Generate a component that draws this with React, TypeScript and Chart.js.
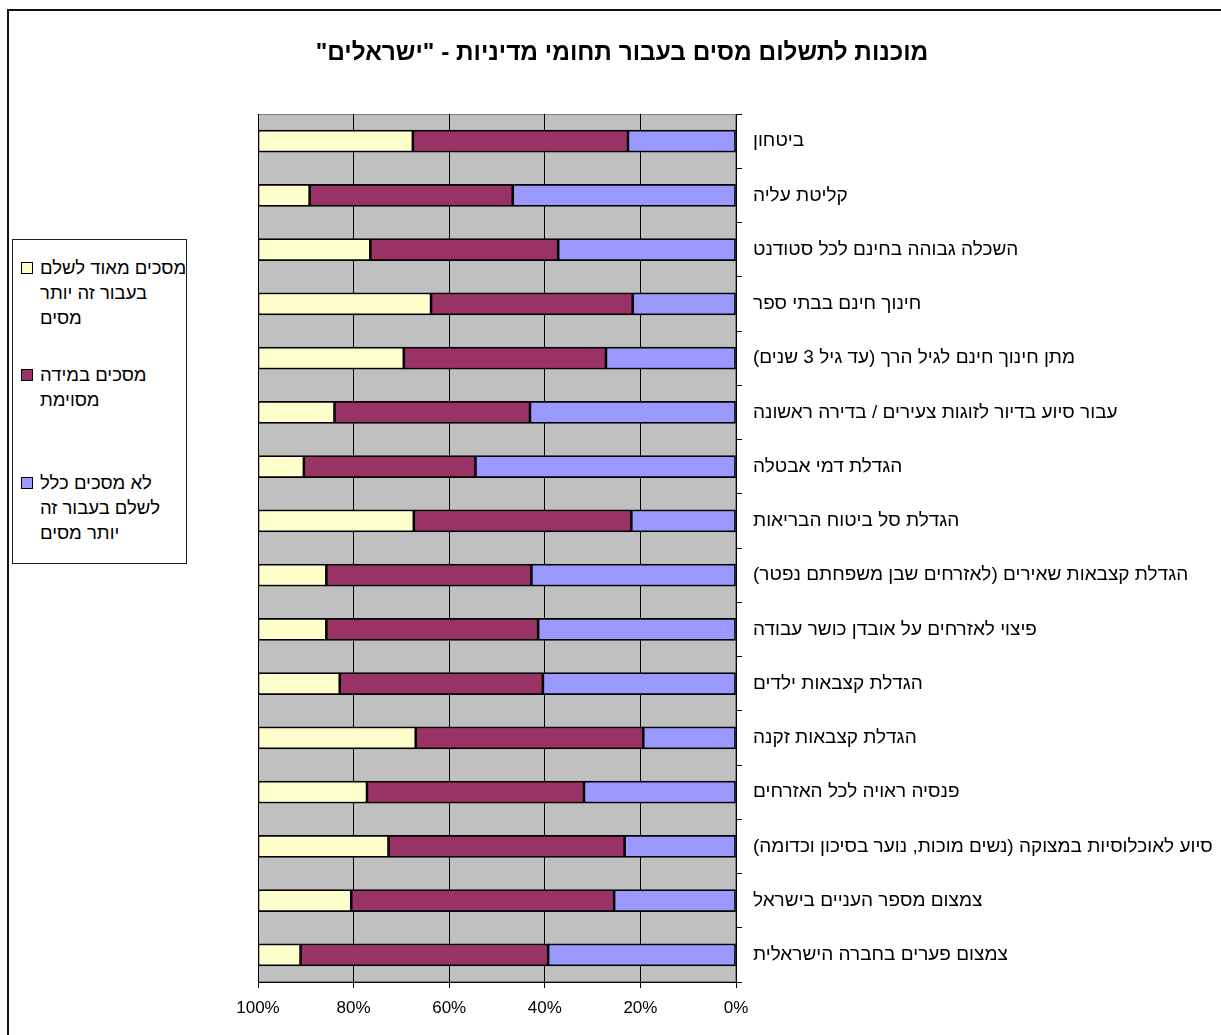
import React, { useEffect, useRef } from "react";
import { Chart, registerables } from "chart.js";

Chart.register(...registerables);

const chartTitle = 'מוכנות לתשלום מסים בעבור תחומי מדיניות - "ישראלים"';

const categories = [
  "ביטחון",
  "קליטת עליה",
  "השכלה גבוהה בחינם לכל סטודנט",
  "חינוך חינם בבתי ספר",
  "מתן חינוך חינם לגיל הרך (עד גיל 3 שנים)",
  "עבור סיוע בדיור לזוגות צעירים / בדירה ראשונה",
  "הגדלת דמי אבטלה",
  "הגדלת סל ביטוח הבריאות",
  "הגדלת קצבאות שאירים (לאזרחים שבן משפחתם נפטר)",
  "פיצוי לאזרחים על אובדן כושר עבודה",
  "הגדלת קצבאות ילדים",
  "הגדלת קצבאות זקנה",
  "פנסיה ראויה לכל האזרחים",
  "סיוע לאוכלוסיות במצוקה (נשים מוכות, נוער בסיכון וכדומה)",
  "צמצום מספר העניים בישראל",
  "צמצום פערים בחברה הישראלית",
];

// "מסכים מאוד לשלם בעבור זה יותר מסים"
const agreeStrongly = [32.4, 10.8, 23.5, 36.2, 30.5, 16.0, 9.6, 32.6, 14.3, 14.3, 17.1, 33.0, 22.8, 27.3, 19.5, 8.9];
// "מסכים במידה מסוימת"
const agreeSomewhat = [45.0, 42.5, 39.3, 42.2, 42.3, 40.9, 35.9, 45.5, 42.9, 44.3, 42.5, 47.6, 45.4, 49.4, 55.0, 51.8];
// "לא מסכים כלל לשלם בעבור זה יותר מסים"
const disagree = [22.6, 46.7, 37.2, 21.6, 27.2, 43.1, 54.5, 21.9, 42.8, 41.4, 40.4, 19.4, 31.8, 23.3, 25.5, 39.3];

const seriesNames = [
  "מסכים מאוד לשלם בעבור זה יותר מסים",
  "מסכים במידה מסוימת",
  "לא מסכים כלל לשלם בעבור זה יותר מסים",
];
const legendLines = [
  ["מסכים מאוד לשלם", "בעבור זה יותר", "מסים"],
  ["מסכים במידה", "מסוימת"],
  ["לא מסכים כלל", "לשלם בעבור זה", "יותר מסים"],
];
const seriesColors = ["#FFFFCC", "#993366", "#9999FF"];

const xTickMin = 0;
const xTickMax = 100;
const xTickStep = 20;

const FONT = "'Liberation Sans', Arial, sans-serif";

const plotBackground = {
  id: "plotBackground",
  beforeDraw(chart: any) {
    const { ctx, chartArea: a } = chart;
    ctx.save();
    ctx.fillStyle = "#C0C0C0";
    ctx.fillRect(a.left, a.top, a.right - a.left, a.bottom - a.top);
    ctx.strokeStyle = "#808080";
    ctx.lineWidth = 1;
    ctx.strokeRect(a.left + 0.5, a.top + 0.5, a.right - a.left - 1, a.bottom - a.top - 1);
    ctx.restore();
  },
};

const titlePlugin = {
  id: "fixedTitle",
  afterDraw(chart: any) {
    const { ctx } = chart;
    ctx.save();
    ctx.direction = "rtl";
    ctx.font = `bold 24.4px ${FONT}`;
    ctx.fillStyle = "#000";
    ctx.textAlign = "center";
    ctx.textBaseline = "middle";
    ctx.fillText(chartTitle, 622, 53);
    ctx.restore();
  },
};

function ChartCanvas() {
  const ref = useRef<HTMLCanvasElement | null>(null);
  useEffect(() => {
    if (!ref.current) return;
    const mk = (label: string, data: number[], color: string) => ({
      label,
      data,
      backgroundColor: color,
      borderColor: "#000000",
      borderWidth: 1.6,
      borderSkipped: false as const,
      barThickness: 22,
    });
    const chart = new Chart(ref.current, {
      type: "bar",
      data: {
        labels: categories,
        datasets: [
          mk(seriesNames[2], disagree, seriesColors[2]),
          mk(seriesNames[1], agreeSomewhat, seriesColors[1]),
          mk(seriesNames[0], agreeStrongly, seriesColors[0]),
        ],
      },
      options: {
        indexAxis: "y",
        animation: false,
        responsive: false,
        layout: { padding: { left: 258, right: 0, top: 114, bottom: 0 } },
        plugins: {
          legend: { display: false },
          tooltip: { enabled: false },
          title: { display: false },
        },
        scales: {
          x: {
            type: "linear",
            stacked: true,
            reverse: true,
            min: xTickMin,
            max: xTickMax,
            afterFit(s: any) {
              s.height = 53;
            },
            ticks: {
              stepSize: xTickStep,
              callback: (v: any) => v + "%",
              color: "#000",
              font: { family: FONT, size: 17 },
              padding: 10,
              maxRotation: 0,
            },
            grid: { color: "#000", lineWidth: 1, tickLength: 6 },
            border: { display: true, color: "#000", width: 1 },
          },
          y: {
            type: "category",
            stacked: true,
            position: "right",
            afterFit(s: any) {
              s.width = 485;
            },
            ticks: {
              color: "#000",
              font: { family: FONT, size: 19 },
              padding: 11,
              autoSkip: false,
            },
            grid: { offset: true, drawOnChartArea: false, tickLength: 6, color: "#000" },
            border: { display: true, color: "#000", width: 1 },
          },
        },
      },
      plugins: [plotBackground, titlePlugin],
    });
    return () => chart.destroy();
  }, []);
  return <canvas ref={ref} width={1221} height={1035} dir="rtl" style={{ display: "block" }} />;
}

const legendTops = [268, 375, 483];

export default function App() {
  return (
    <div
      style={{
        position: "fixed",
        left: 0,
        top: 0,
        width: 1221,
        height: 1035,
        overflow: "hidden",
        background: "#fff",
        fontFamily: FONT,
      }}
    >
      <div
        style={{
          position: "absolute",
          left: 7,
          top: 9,
          width: 1400,
          height: 1200,
          border: "2px solid #111",
        }}
      />
      <div style={{ position: "absolute", left: 0, top: 0 }}>
        <ChartCanvas />
      </div>
      <div
        style={{
          position: "absolute",
          left: 12,
          top: 239,
          width: 173,
          height: 323,
          border: "1px solid #222",
          background: "#fff",
        }}
      />
      {legendLines.map((lines, i) => (
        <React.Fragment key={i}>
          <div
            style={{
              position: "absolute",
              left: 21,
              top: legendTops[i] - 6,
              width: 10,
              height: 10,
              background: seriesColors[i],
              border: "1px solid #000",
            }}
          />
          {lines.map((t, j) => (
            <div
              key={j}
              dir="rtl"
              style={{
                position: "absolute",
                left: 40,
                top: legendTops[i] + j * 25 - 12,
                height: 24,
                lineHeight: "24px",
                fontSize: 18.5,
                whiteSpace: "nowrap",
                color: "#000",
              }}
            >
              {t}
            </div>
          ))}
        </React.Fragment>
      ))}
    </div>
  );
}
